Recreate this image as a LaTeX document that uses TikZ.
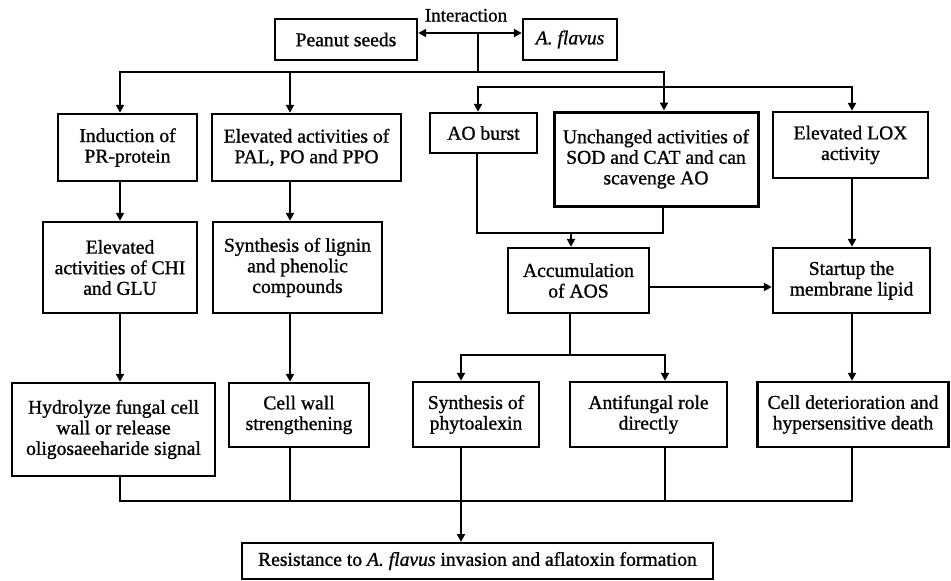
\documentclass[tikz,border=0pt]{standalone}
\usepackage{fontspec}
\setmainfont{Liberation Serif}[FakeBold=1.0]
\usetikzlibrary{arrows.meta}
\begin{document}
\begin{tikzpicture}[x=1pt,y=-1pt,
  box/.style={draw, line width=2.4pt, align=center, inner sep=0pt,
    font=\fontsize{19.6pt}{20.6pt}\selectfont},
  conn/.style={line width=2.1pt, line cap=rect},
  thin/.style={line width=1.4pt, line cap=rect},
  arr/.style={conn, -{Triangle[length=8pt,width=8pt]}},
  darr/.style={conn, {Triangle[length=8pt,width=8pt]}-{Triangle[length=8pt,width=8pt]}}]
\useasboundingbox (0,0) rectangle (951,581);
% nodes
\node[box, minimum width=142pt, minimum height=41pt] (peanut) at (346,39.5) {Peanut seeds};
\node[box, minimum width=94pt, minimum height=41pt] (flavus) at (570,39.5) {\itshape A. flavus};
\node[font=\fontsize{19pt}{20pt}\selectfont, anchor=base, inner sep=0pt] (inter) at (466,21.5) {Interaction};
\node[box, minimum width=139pt, minimum height=67pt] (induct) at (127.5,147.5) {Induction of\\PR-protein};
\node[box, minimum width=189pt, minimum height=67pt] (pal) at (306.5,147.5) {Elevated activities of\\PAL, PO and PPO};
\node[box, minimum width=107pt, minimum height=40pt] (aob) at (483.5,133) {AO burst};
\node[box, line width=3pt, minimum width=204pt, minimum height=94pt] (unch) at (656,159) {Unchanged activities of\\SOD and CAT and can\\scavenge AO};
\node[box, minimum width=155pt, minimum height=66pt] (lox) at (850.5,145) {Elevated LOX\\activity};
\node[box, minimum width=154pt, minimum height=91pt] (chi) at (120,267.5) {Elevated\\activities of CHI\\and GLU};
\node[box, minimum width=169pt, minimum height=91pt] (lign) at (297.5,267.5) {Synthesis of lignin\\and phenolic\\compounds};
\node[box, minimum width=141pt, minimum height=65pt] (accu) at (578.5,280.5) {Accumulation\\of AOS};
\node[box, minimum width=157pt, minimum height=65pt] (start) at (851.5,280.5) {Startup the\\membrane lipid};
\node[box, minimum width=203pt, minimum height=93pt] (hydro) at (113.5,429.5) {Hydrolyze fungal cell\\wall or release\\oligosaeeharide signal};
\node[box, minimum width=140pt, minimum height=64pt] (cwall) at (299,415) {Cell wall\\strengthening};
\node[box, minimum width=126pt, minimum height=65pt] (phyto) at (476,414.5) {Synthesis of\\phytoalexin};
\node[box, minimum width=157pt, minimum height=65pt] (antif) at (648.5,414.5) {Antifungal role\\directly};
\node[box, minimum width=191pt, minimum height=65pt] (celld) at (853,414.5) {Cell deterioration and\\hypersensitive death};
\node[box, line width=2pt, minimum width=471pt, minimum height=36pt] (resist) at (477.5,561) {Resistance to \textit{A. flavus} invasion and aflatoxin formation};
% coordinates
\coordinate (top) at (478,33);
\coordinate (s1) at (478,72);
\coordinate (bL) at (120,72);
\coordinate (bP) at (290,72);
\coordinate (bR) at (664,72);
\coordinate (cL) at (478,87);
\coordinate (cR) at (852,87);
\coordinate (m1) at (477,233);
\coordinate (m2) at (663,233);
\coordinate (m3) at (571,233);
\coordinate (h1) at (0,287);
\coordinate (n1) at (570,355);
\coordinate (nL) at (461,355);
\coordinate (nR) at (665,355);
\coordinate (q1) at (120,501);
\coordinate (q5) at (852,501);
% connectors
\draw[darr] (peanut.east |- top) -- (flavus.west |- top);
\draw[conn] (top) -- (s1);
\draw[darr] (bL |- induct.north) -- (bL) -- (bR) -- (bR |- unch.north);
\draw[arr] (bP) -- (bP |- pal.north);
\draw[darr] (cL |- aob.north) -- (cL) -- (cR) -- (cR |- lox.north);
\draw[arr] (induct.south -| bL) -- (chi.north -| bL);
\draw[arr] (pal.south -| bP) -- (lign.north -| bP);
\draw[arr] (chi.south -| bL) -- (hydro.north -| bL);
\draw[arr] (lign.south -| bP) -- (cwall.north -| bP);
\draw[conn] (aob.south -| m1) -- (m1) -- (m2) -- (unch.south -| m2);
\draw[arr] (m3) -- (m3 |- accu.north);
\draw[arr] (lox.south -| cR) -- (start.north -| cR);
\draw[arr] (accu.east |- h1) -- (start.west |- h1);
\draw[conn] (accu.south -| n1) -- (n1);
\draw[darr] (nL |- phyto.north) -- (nL) -- (nR) -- (nR |- antif.north);
\draw[arr] (start.south -| cR) -- (celld.north -| cR);
\draw[conn] (hydro.south -| q1) -- (q1) -- (q5);
\draw[thin] (q5) -- (celld.south -| q5);
\draw[conn] (cwall.south -| bP) -- (bP |- q1);
\draw[thin] (antif.south -| nR) -- (nR |- q1);
\draw[arr] (phyto.south -| nL) -- (resist.north -| nL);
\end{tikzpicture}
\end{document}
